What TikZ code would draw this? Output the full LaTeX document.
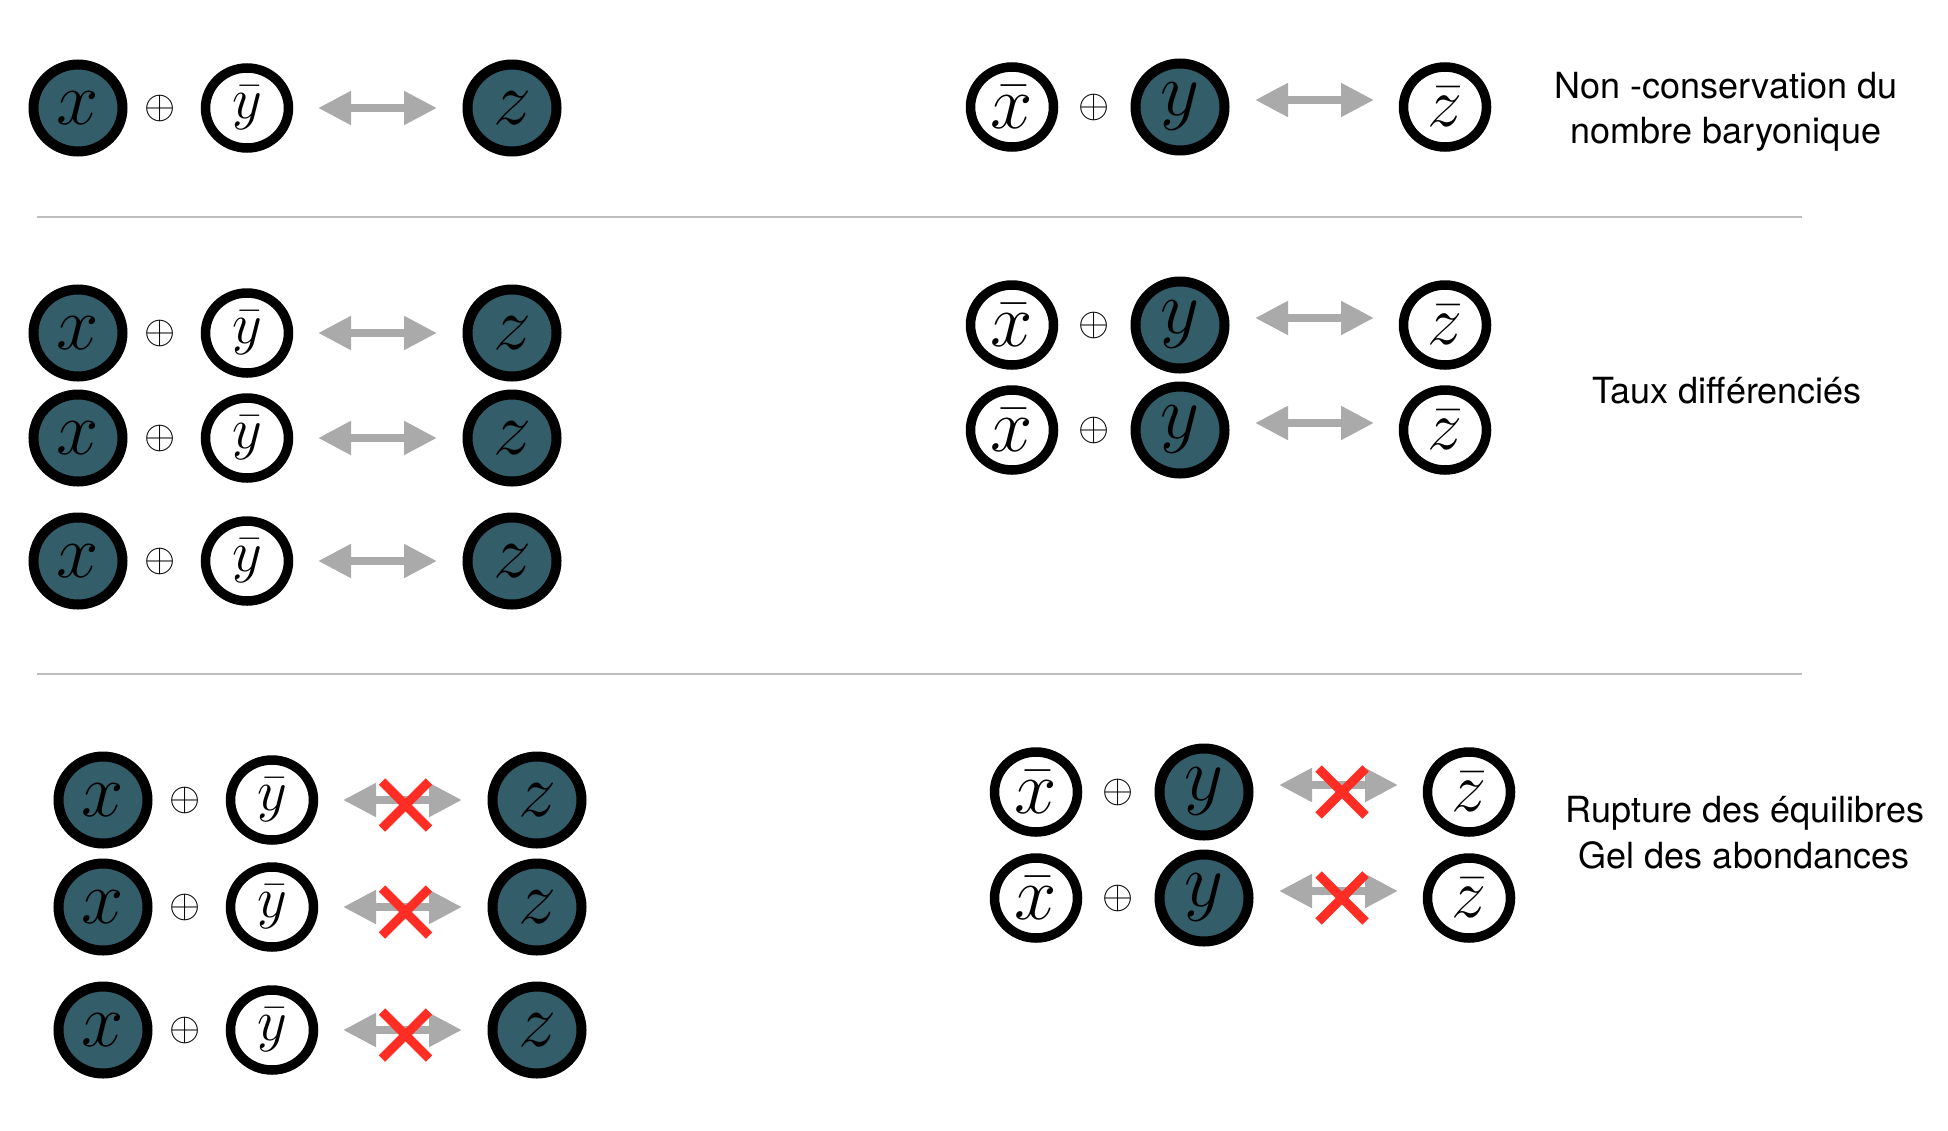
\documentclass[tikz,border=0pt]{standalone}
\usepackage{fix-cm}
\usepackage[no-math]{fontspec}
\newfontfamily\labfont{TeX Gyre Heros}
\usetikzlibrary{shapes.geometric,arrows.meta}
\definecolor{ballfill}{RGB}{52,93,106}
\definecolor{arrowgray}{RGB}{170,170,170}
\definecolor{crossred}{RGB}{255,45,35}
\definecolor{rulegray}{RGB}{190,190,190}
\tikzset{
  dball/.style={ellipse, draw=black, line width=10pt, fill=ballfill, minimum width=89pt, minimum height=87pt, inner sep=0pt, font=\fontsize{76}{80}\selectfont},
  wball/.style={ellipse, draw=black, line width=9.5pt, fill=white, minimum width=83pt, minimum height=80pt, inner sep=0pt, font=\fontsize{70}{74}\selectfont},
  smallglyph/.style={font=\fontsize{58}{62}\selectfont},
  bigglyph/.style={font=\fontsize{76}{80}\selectfont},
  plus/.style={inner sep=0pt, font=\fontsize{40}{44}\selectfont},
  dblarrow/.style={draw=arrowgray, line width=8pt, {Triangle[length=33pt,width=32pt]}-{Triangle[length=33pt,width=32pt]}},
  crossline/.style={draw=crossred, line width=9pt},
  seprule/.style={draw=rulegray, line width=2pt},
  lab/.style={font=\labfont\fontsize{36}{45}\selectfont, anchor=base, inner sep=0pt}
}
\newcommand\drawcross[1]{%
  \draw[crossline] ([shift={(-23.5,-23.5)}]#1) -- ([shift={(23.5,23.5)}]#1);
  \draw[crossline] ([shift={(-23.5,23.5)}]#1) -- ([shift={(23.5,-23.5)}]#1);}
\newcommand\rowL[4]{%
  \node[dball] (#1a) at (#2,#3) {$x$};
  \node[plus] (#1p) at ({#2+82},#3) {$\oplus$};
  \node[wball,smallglyph] (#1b) at ({#2+169},#3) {$\bar{y}$};
  \coordinate (#1l) at ({#2+240},#3);
  \coordinate (#1r) at ({#2+359},#3);
  \node[dball] (#1c) at ({#2+434},#3) {$z$};
  \draw[dblarrow] (#1l) -- (#1r);
  \ifnum#4=1 \coordinate (#1k) at ({#2+302.5},{#3+5}); \drawcross{#1k}\fi}
\newcommand\rowR[4]{%
  \node[wball,bigglyph] (#1a) at (#2,#3) {$\bar{x}$};
  \node[plus] (#1p) at ({#2+82},#3) {$\oplus$};
  \node[dball] (#1b) at ({#2+168},#3) {$y$};
  \coordinate (#1l) at ({#2+243},{#3-7});
  \coordinate (#1r) at ({#2+362},{#3-7});
  \node[wball] (#1c) at ({#2+433},#3) {$\bar{z}$};
  \draw[dblarrow] (#1l) -- (#1r);
  \ifnum#4=1 \coordinate (#1k) at ({#2+306},#3); \drawcross{#1k}\fi}
\begin{document}
\begin{tikzpicture}[x=1pt,y=-1pt]
\fill[white] (0,0) rectangle (1948,1130);
\useasboundingbox (0,0) rectangle (1948,1130);
% separators
\coordinate (s1l) at (37,217); \coordinate (s1r) at (1802,217);
\coordinate (s2l) at (37,674); \coordinate (s2r) at (1802,674);
\draw[seprule] (s1l) -- (s1r);
\draw[seprule] (s2l) -- (s2r);
% section 1
\rowL{La}{78}{108}{0}
\rowR{Ra}{1012}{107}{0}
\node[lab] (t1) at (1726,98) {Non -conservation du};
\node[lab] (t2) at (1726,143) {nombre baryonique};
% section 2
\rowL{Lb}{78}{333}{0}
\rowL{Lc}{78}{438}{0}
\rowL{Ld}{78}{561}{0}
\rowR{Rb}{1012}{325}{0}
\rowR{Rc}{1012}{430}{0}
\node[lab] (t3) at (1727,403) {Taux différenciés};
% section 3
\rowL{Le}{103}{800}{1}
\rowL{Lf}{103}{907}{1}
\rowL{Lg}{103}{1030}{1}
\rowR{Rd}{1036}{792}{1}
\rowR{Re}{1036}{898}{1}
\node[lab] (t4) at (1745,822) {Rupture des équilibres};
\node[lab] (t5) at (1744,868) {Gel des abondances};
\end{tikzpicture}
\end{document}
